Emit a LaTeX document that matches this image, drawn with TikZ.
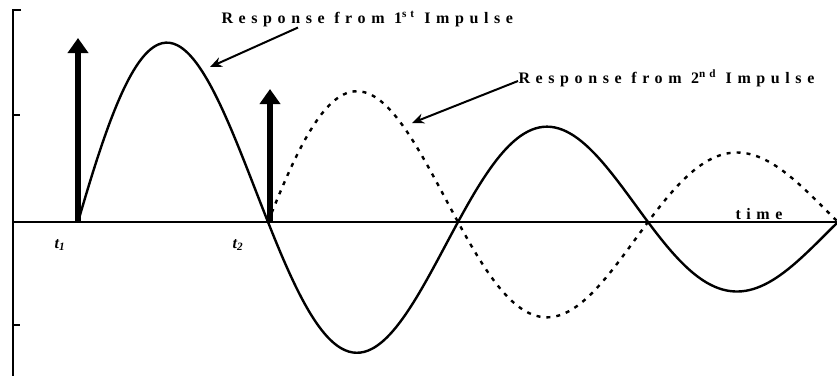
\documentclass[tikz,border=0pt]{standalone}
\usepackage{fontspec}
\setmainfont{Liberation Serif}
\usetikzlibrary{positioning,arrows.meta,calc}

\tikzset{
  axisline/.style={line width=2.5pt},
  response/.style={line width=2.4pt,line join=round},
  impulse/.style={line width=5.5pt,-{Triangle[width=20pt,length=15pt]}},
  pointer/.style={line width=2pt,-{Stealth[width=10pt,length=12pt]}},
  spaced/.style={font=\fontsize{16}{18}\selectfont\bfseries\addfontfeature{LetterSpace=35}},
  tlabel/.style={font=\fontsize{16}{18}\selectfont\bfseries\itshape}
}
% damped response, 1 unit = 1 pixel
\newcommand{\resp}[1]{209*exp(-0.001656*(#1-78))*sin(0.947368*(#1-78))}

\begin{document}
\begin{tikzpicture}[x=1pt,y=-1pt]
\useasboundingbox (0,0) rectangle (837,376);

% axes
\draw[axisline] (21,10) -- (13,10) -- (13,376);
\draw[axisline] (13,115) -- (20,115);
\draw[axisline] (13,325) -- (20,325);
\draw[axisline] (13,222) -- (837,222);

% responses
\draw[response,domain=78:837,samples=200,smooth]
  plot (\x,{222-\resp{\x}});
\draw[response,dash pattern=on 4pt off 6pt,domain=268:837,samples=160,smooth]
  plot (\x,{222+\resp{\x}});

% impulses
\coordinate (t1) at (78,222);
\coordinate (t2) at (270,222);
\coordinate (top1) at (78,38);
\coordinate (top2) at (270,89);
\draw[impulse] (t1) -- (top1);
\draw[impulse] (t2) -- (top2);
\node[tlabel] (t1lab) at (60,245) {t\textsubscript{1}};
\node[tlabel] (t2lab) at (238,245) {t\textsubscript{2}};

% labels
\node[spaced,anchor=west] (lab1) at (218,19) {Response from 1\textsuperscript{st} Impulse};
\node[spaced,anchor=west] (lab2) at (515,78) {Response from 2\textsuperscript{nd} Impulse};
\node[spaced,anchor=base] (timelab) at (759,219) {time};
\coordinate (tip1) at (210,67);
\coordinate (tip2) at (412,123);
\draw[pointer] ([xshift=80pt,yshift=3pt]lab1.south west) -- (tip1);
\draw[pointer] ([xshift=3pt,yshift=-3pt]lab2.west) -- (tip2);
\end{tikzpicture}
\end{document}
